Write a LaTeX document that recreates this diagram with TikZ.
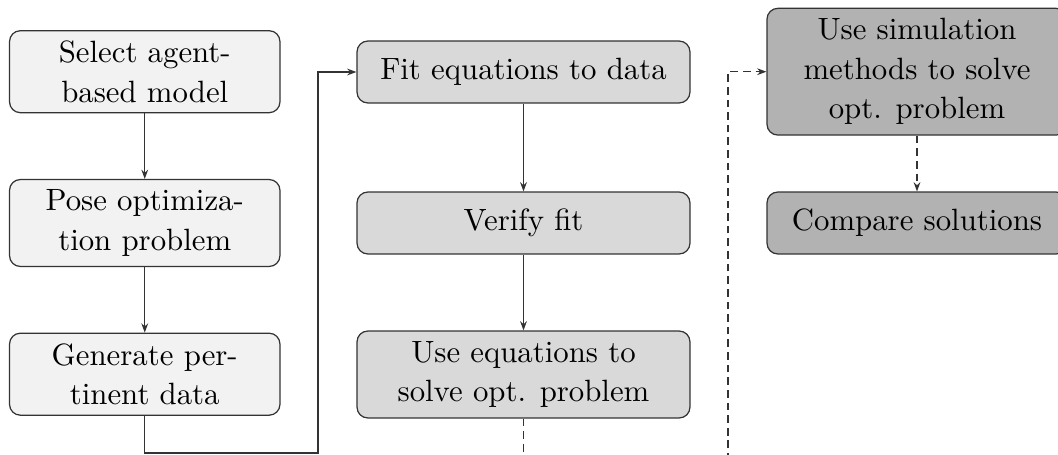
\documentclass[tikz,border=0pt]{standalone}
\usetikzlibrary{arrows.meta}
\definecolor{fillA}{gray}{0.95}
\definecolor{fillB}{gray}{0.85}
\definecolor{fillC}{gray}{0.70}
\tikzset{
  box/.style={draw=black!80, rounded corners=3.5pt, align=center, inner sep=3.33pt,
    font=\fontsize{10}{12.8}\selectfont},
  colA/.style={box, fill=fillA, minimum width=87.8pt},
  colB/.style={box, fill=fillB, minimum width=108.1pt},
  colC/.style={box, fill=fillC, minimum width=97.4pt},
  oneline/.style={minimum height=20.1pt},
  arr/.style={draw=black!80, -{Stealth[length=3pt,width=2.2pt]}},
  dashline/.style={dash pattern=on 2.5pt off 1.6pt}
}
\begin{document}
\begin{tikzpicture}[x=0.3247pt, y=-0.3247pt]
\useasboundingbox (0,0) rectangle (1058,455);
\clip (0,0) rectangle (1058,455);

% column 1
\node[colA] (select) at (144.75,71.7) {Select agent-\\based model};
\node[colA] (pose) at (144.75,223) {Pose optimiza-\\tion problem};
\node[colA] (generate) at (144.75,374.2) {Generate per-\\tinent data};

% column 2
\node[colB, oneline] (fit) at (523.5,72) {Fit equations to data};
\node[colB, oneline] (verify) at (523.5,223) {Verify fit};
\node[colB] (useeq) at (523.5,374.5) {Use equations to\\solve opt. problem};

% column 3
\node[colC] (sim) at (917,71.7) {Use simulation\\methods to solve\\opt. problem};
\node[colC, oneline] (compare) at (917,223) {Compare solutions};

% helper coordinates
\coordinate (g1) at (144.75,453);
\coordinate (g2) at (318,453);
\coordinate (d1) at (523.5,470);
\coordinate (d2) at (728,470);

% connectors
\draw[arr] (select) -- (pose);
\draw[arr] (pose) -- (generate);
\draw[arr] (generate.south) -- (g1) -- (g2) |- (fit.west);
\draw[arr] (fit) -- (verify);
\draw[arr] (verify) -- (useeq);
\draw[arr, dashline] (useeq.south) -- (d1) -- (d2) |- (sim.west);
\draw[arr, dashline] (sim) -- (compare);
\end{tikzpicture}
\end{document}
